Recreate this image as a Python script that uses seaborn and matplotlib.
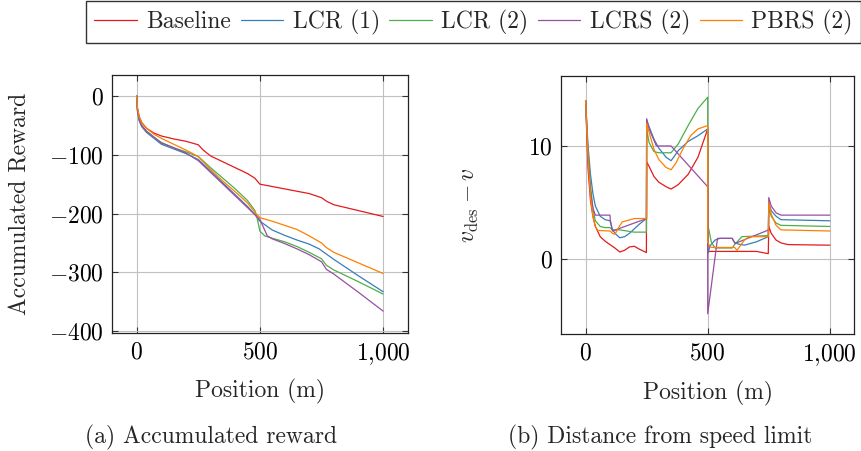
import numpy as np
import pandas as pd
import matplotlib
matplotlib.use('Agg')
import matplotlib.pyplot as plt
import seaborn as sns
from matplotlib.ticker import FuncFormatter

sns.set_style('whitegrid')
plt.rcParams['font.family'] = ['cmr10', 'DejaVu Serif']
plt.rcParams['mathtext.fontset'] = 'cm'
plt.rcParams['axes.formatter.use_mathtext'] = True
plt.rcParams['axes.unicode_minus'] = False

FS = 17

methods = ['Baseline', 'LCR (1)', 'LCR (2)', 'LCRS (2)', 'PBRS (2)']
colors = ['#e41a1c', '#377eb8', '#4daf4a', '#984ea3', '#ff7f00']

# (a) 累计奖励
rew_base_x = [0, 3, 10, 20, 40, 70, 100, 150, 200, 250, 270, 300, 350, 400, 450, 480, 500, 600, 700, 750, 770, 800, 900, 1000]
rew_base_y = [0, -20, -35, -45, -55, -63, -68, -73, -77, -83, -92, -102, -112, -122, -132, -140, -150, -158, -166, -173, -179, -185, -195, -205]
rew_lcr1_x = [0, 3, 10, 20, 40, 70, 100, 150, 200, 250, 300, 350, 400, 450, 480, 500, 550, 600, 650, 700, 740, 770, 800, 900, 1000]
rew_lcr1_y = [0, -25, -42, -52, -62, -72, -82, -90, -98, -108, -128, -148, -168, -188, -202, -213, -228, -237, -245, -252, -260, -269, -278, -306, -333]
rew_lcr2_x = [0, 3, 10, 20, 40, 70, 100, 150, 200, 250, 300, 350, 400, 450, 480, 490, 500, 520, 550, 600, 650, 700, 750, 770, 800, 900, 1000]
rew_lcr2_y = [0, -24, -40, -50, -60, -70, -79, -88, -95, -103, -122, -140, -158, -178, -195, -210, -230, -238, -242, -248, -256, -266, -277, -288, -296, -316, -337]
rew_lcrs_x = [0, 3, 10, 20, 40, 70, 100, 150, 200, 250, 300, 350, 400, 450, 500, 530, 550, 600, 650, 700, 750, 770, 800, 900, 1000]
rew_lcrs_y = [0, -25, -40, -50, -60, -70, -80, -88, -97, -110, -130, -150, -170, -190, -210, -238, -243, -251, -260, -270, -282, -295, -303, -334, -366]
rew_pbrs_x = [0, 3, 10, 20, 40, 70, 100, 150, 200, 250, 300, 350, 400, 450, 480, 500, 550, 600, 650, 700, 750, 770, 800, 900, 1000]
rew_pbrs_y = [0, -20, -35, -45, -55, -65, -72, -82, -92, -103, -125, -145, -163, -182, -198, -207, -213, -220, -227, -238, -250, -258, -266, -284, -302]

# (b) 与限速的差值
dv_base_x = [0, 10, 20, 30, 40, 60, 80, 100, 120, 140, 160, 180, 200, 220, 249, 250, 260, 280, 300, 330, 350, 380, 420, 460, 500, 500, 520, 600, 700, 748, 750, 760, 780, 800, 830, 1000]
dv_base_y = [14, 8, 5.2, 3.8, 2.9, 2.0, 1.6, 1.3, 1.0, 0.65, 0.8, 1.1, 1.15, 0.9, 0.6, 8.6, 8.2, 7.3, 6.8, 6.4, 6.2, 6.6, 7.5, 9.0, 11.5, 0.7, 0.7, 0.7, 0.7, 0.5, 2.9, 2.3, 1.7, 1.45, 1.3, 1.25]
dv_lcr1_x = [0, 10, 20, 30, 40, 60, 80, 100, 110, 125, 140, 160, 180, 200, 220, 249, 250, 260, 280, 300, 330, 350, 380, 420, 460, 500, 500, 510, 530, 550, 600, 610, 625, 650, 700, 748, 750, 760, 780, 800, 1000]
dv_lcr1_y = [14, 10, 7.5, 5.8, 4.7, 3.8, 3.5, 3.4, 2.6, 2.2, 1.9, 2.0, 2.3, 2.7, 3.1, 3.6, 12.3, 11.7, 10.6, 9.8, 9.0, 8.7, 9.6, 10.4, 10.9, 11.5, 0.5, 1.2, 1.7, 1.85, 1.85, 1.5, 1.35, 1.25, 1.55, 2.0, 5.0, 4.3, 3.8, 3.5, 3.4]
dv_lcr2_x = [0, 10, 20, 30, 40, 60, 80, 100, 110, 140, 170, 200, 249, 250, 260, 280, 300, 350, 380, 420, 460, 500, 500, 505, 515, 530, 600, 610, 640, 700, 748, 750, 760, 780, 800, 1000]
dv_lcr2_y = [14, 9.5, 6.5, 4.5, 3.4, 2.9, 2.8, 2.8, 2.6, 2.6, 2.5, 2.4, 2.4, 11.5, 10.3, 9.5, 9.4, 9.4, 10.2, 11.8, 13.3, 14.3, 3.0, 2.6, 1.5, 1.0, 1.0, 1.3, 2.0, 2.05, 2.1, 4.6, 3.8, 3.2, 3.0, 2.9]
dv_lcrs_x = [0, 10, 20, 30, 40, 100, 101, 110, 250, 250, 260, 290, 350, 500, 500, 540, 600, 612, 750, 750, 760, 780, 800, 1000]
dv_lcrs_y = [14, 9, 6, 4.5, 3.9, 3.9, 3.5, 2.5, 3.6, 12.4, 11.5, 10.0, 10.0, 6.4, -4.8, 1.85, 1.85, 1.4, 2.6, 5.45, 4.7, 4.1, 3.9, 3.9]
dv_pbrs_x = [0, 10, 20, 30, 40, 50, 100, 110, 120, 135, 150, 200, 249, 250, 260, 280, 300, 330, 350, 370, 400, 430, 460, 500, 500, 510, 520, 610, 620, 650, 670, 700, 748, 750, 760, 780, 800, 1000]
dv_pbrs_y = [14, 9, 5.5, 3.8, 2.9, 2.55, 2.5, 2.3, 2.2, 2.8, 3.3, 3.6, 3.6, 12.0, 11.2, 9.7, 8.8, 8.1, 7.9, 8.5, 9.8, 10.9, 11.5, 11.8, 1.5, 1.1, 1.05, 1.05, 0.8, 1.7, 2.0, 2.0, 2.0, 5.0, 4.0, 3.0, 2.6, 2.5]


def make_df(xs, ys):
    parts = []
    for name, x, y in zip(methods, xs, ys):
        parts.append(pd.DataFrame({'pos': x, 'val': y, 'method': name}))
    return pd.concat(parts, ignore_index=True)


df_rew = make_df([rew_base_x, rew_lcr1_x, rew_lcr2_x, rew_lcrs_x, rew_pbrs_x],
                 [rew_base_y, rew_lcr1_y, rew_lcr2_y, rew_lcrs_y, rew_pbrs_y])
df_dv = make_df([dv_base_x, dv_lcr1_x, dv_lcr2_x, dv_lcrs_x, dv_pbrs_x],
                [dv_base_y, dv_lcr1_y, dv_lcr2_y, dv_lcrs_y, dv_pbrs_y])


def tick_fmt(v, pos):
    s = f"{int(round(v)):,}".replace(",", "{,}")
    return f"${s}$"


fig = plt.figure(figsize=(8.62, 4.51), dpi=100)
ax1 = fig.add_axes([0.130, 0.262, 0.343, 0.572])
ax2 = fig.add_axes([0.651, 0.259, 0.340, 0.572])

sns.lineplot(data=df_rew, x='pos', y='val', hue='method', palette=colors,
             estimator=None, sort=False, linewidth=0.9, ax=ax1)
sns.lineplot(data=df_dv, x='pos', y='val', hue='method', palette=colors,
             estimator=None, sort=False, linewidth=0.9, ax=ax2, legend=False)

handles, labels = ax1.get_legend_handles_labels()
ax1.get_legend().remove()

ax1.set_xlim(-100, 1100)
ax1.set_ylim(-403, 36)
ax1.set_xticks([0, 500, 1000])
ax1.set_yticks([0, -100, -200, -300, -400])
ax2.set_xlim(-100, 1100)
ax2.set_ylim(-6.6, 16.15)
ax2.set_xticks([0, 500, 1000])
ax2.set_yticks([0, 10])

for ax in (ax1, ax2):
    ax.xaxis.set_major_formatter(FuncFormatter(tick_fmt))
    ax.yaxis.set_major_formatter(FuncFormatter(tick_fmt))
    ax.grid(True, color='#c0c0c0', linewidth=0.8)
    ax.tick_params(direction='in', length=4, width=0.8, colors='#333333',
                   labelcolor='black', labelsize=FS, top=True, right=True,
                   bottom=True, left=True, pad=6)
    for sp in ax.spines.values():
        sp.set_color('#222222')
        sp.set_linewidth(0.9)
    ax.set_xlabel('Position (m)', fontsize=FS)
    ax.xaxis.label.set_va('center')
    ax.xaxis.set_label_coords(0.5, -0.229)

ax1.set_ylabel('Accumulated Reward', fontsize=FS)
ax2.set_ylabel(r'$v_{\mathrm{des}} - v$', fontsize=FS)
for ax in (ax1, ax2):
    ax.yaxis.label.set_va('center')
    ax.yaxis.set_label_coords(-0.31, 0.5)

fig.text(0.245, 0.031, '(a) Accumulated reward', ha='center', va='center', fontsize=FS)
fig.text(0.766, 0.031, '(b) Distance from speed limit', ha='center', va='center', fontsize=FS)

leg = fig.legend(handles, labels, loc='upper right', bbox_to_anchor=(0.999, 0.997),
                 ncol=5, frameon=True, fancybox=False, edgecolor='black',
                 fontsize=FS, handlelength=1.8, handletextpad=0.4,
                 columnspacing=0.4, borderpad=0.35, borderaxespad=0.0)
leg.get_frame().set_linewidth(1.0)
for line in leg.get_lines():
    line.set_linewidth(0.9)

fig.savefig('out.png', dpi=100)
